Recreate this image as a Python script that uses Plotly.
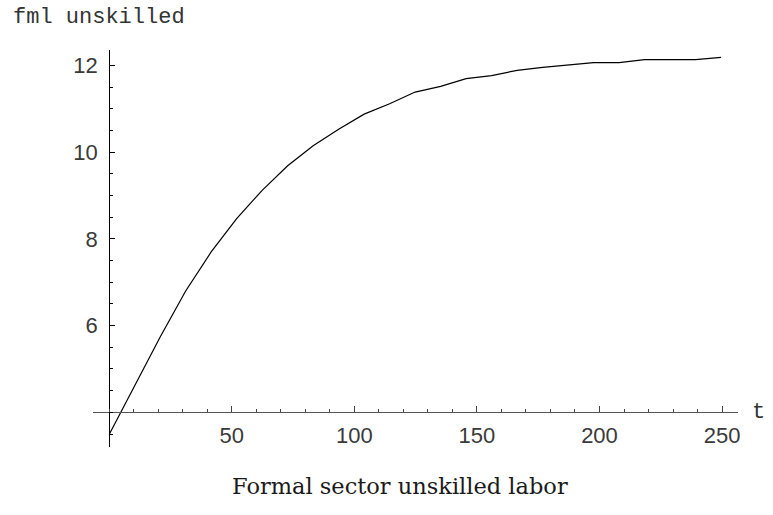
import plotly.graph_objects as go

# Simulated path of formal-sector unskilled labour over time
t = [0, 10.4, 20.8, 31.2, 41.6, 52.0, 62.4, 72.8, 83.2, 93.6, 104.0, 114.4,
     124.8, 135.2, 145.6, 156.0, 166.4, 176.8, 187.2, 197.6, 208.0, 218.4,
     228.8, 239.2, 249.6]
fml = [3.49, 4.60, 5.74, 6.80, 7.70, 8.47, 9.12, 9.69, 10.15, 10.53, 10.88,
       11.12, 11.39, 11.52, 11.70, 11.77, 11.89, 11.96, 12.02, 12.07, 12.07,
       12.14, 12.14, 12.14, 12.19]

x_ticks = [50, 100, 150, 200, 250]
y_ticks = [6, 8, 10, 12]

X_RANGE = [-6.6, 256.5]
Y_RANGE = [3.2, 12.36]
X_CROSS = 4      # height where the t axis crosses
Y_CROSS = 0      # t value where the vertical axis crosses

W, H = 773, 515
ML, MR, MT, MB = 93, 35, 50, 68
PW, PH = W - ML - MR, H - MT - MB

tick_font = dict(family="Liberation Sans, Arial, sans-serif", size=22, color="#3a3a3a")
mono = "Liberation Mono, Courier New, monospace"

fig = go.Figure()
fig.add_trace(go.Scatter(x=t, y=fml, mode="lines",
                         line=dict(color="black", width=1.2),
                         hoverinfo="skip", showlegend=False))

fig.update_layout(
    width=W, height=H,
    margin=dict(l=ML, r=MR, t=MT, b=MB),
    paper_bgcolor="white", plot_bgcolor="white",
    xaxis=dict(
        range=X_RANGE, anchor="free",
        position=(X_CROSS - Y_RANGE[0]) / (Y_RANGE[1] - Y_RANGE[0]),
        showgrid=False, zeroline=False,
        showline=True, linecolor="#555", linewidth=1,
        tickmode="array", tickvals=x_ticks, ticktext=[str(v) for v in x_ticks],
        ticks="inside", ticklen=6, tickwidth=1, tickcolor="#444",
        minor=dict(dtick=10, tick0=0, ticks="inside", ticklen=3,
                   tickwidth=1, tickcolor="#444", showgrid=False),
        tickfont=tick_font, ticklabelstandoff=3,
    ),
    yaxis=dict(
        range=Y_RANGE, anchor="free",
        position=(Y_CROSS - X_RANGE[0]) / (X_RANGE[1] - X_RANGE[0]),
        showgrid=False, zeroline=False,
        showline=True, linecolor="black", linewidth=1,
        tickmode="array", tickvals=y_ticks, ticktext=[str(v) for v in y_ticks],
        ticks="inside", ticklen=5, tickwidth=1, tickcolor="black",
        minor=dict(dtick=0.5, tick0=0, ticks="inside", ticklen=3,
                   tickwidth=1, tickcolor="black", showgrid=False),
        tickfont=tick_font, ticklabelstandoff=7,
    ),
    annotations=[
        dict(text="fml unskilled", xref="paper", yref="paper",
             x=(11 - ML) / PW, y=1 + (MT - 17) / PH,
             xanchor="left", yanchor="middle", showarrow=False,
             font=dict(family=mono, size=22, color="#333")),
        dict(text="t", xref="paper", yref="y",
             x=1 + (758 - (W - MR)) / PW, y=X_CROSS,
             xanchor="center", yanchor="middle", showarrow=False,
             font=dict(family=mono, size=22, color="#333")),
        dict(text="Formal sector unskilled labor", xref="paper", yref="paper",
             x=(400 - ML) / PW, y=-(486 - (H - MB)) / PH,
             xanchor="center", yanchor="middle", showarrow=False,
             font=dict(family="DejaVu Serif, Liberation Serif, serif",
                       size=22.5, color="#1a1a1a")),
    ],
)

fig.write_html("out.html", config=dict(displayModeBar=False))
